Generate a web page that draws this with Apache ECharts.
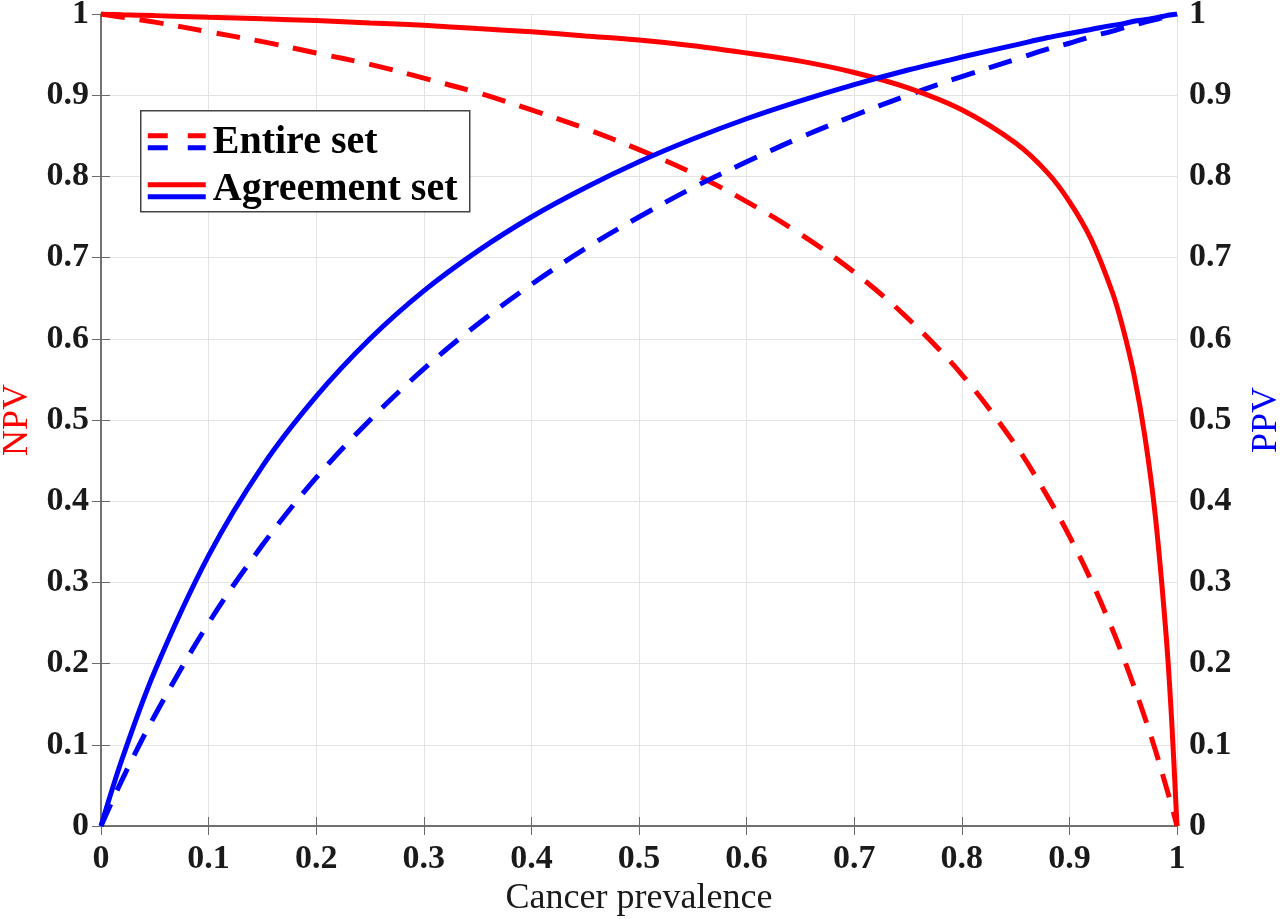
<!DOCTYPE html>
<html>
<head>
<meta charset="utf-8">
<script src="https://cdn.jsdelivr.net/npm/echarts@6/dist/echarts.min.js"></script>
<style>
  html, body { margin: 0; padding: 0; background: #fff; }
  #chart { width: 1280px; height: 919px; }
</style>
</head>
<body>
<div id="chart"></div>
<script>
// cancer prevalence (x) and the values
const prevalence = [0, 0.02, 0.05, 0.1, 0.15, 0.2, 0.25, 0.3, 0.35, 0.4, 0.45, 0.5, 0.55, 0.6, 0.65,
  0.7, 0.75, 0.8, 0.85, 0.88, 0.9, 0.92, 0.94, 0.95, 0.96, 0.97, 0.98, 0.99, 0.995, 1]
const npvAgreement = [1, 0.999, 0.998, 0.996, 0.994, 0.992, 0.989, 0.986, 0.982, 0.978, 0.973, 0.968, 0.961, 0.952, 0.942,
  0.928, 0.909, 0.882, 0.841, 0.804, 0.769, 0.723, 0.657, 0.612, 0.556, 0.481, 0.380, 0.233, 0.131, 0]
const npvEntire = [1, 0.996, 0.990, 0.978, 0.966, 0.952, 0.938, 0.921, 0.903, 0.882, 0.859, 0.833, 0.804, 0.769, 0.729,
  0.682, 0.625, 0.556, 0.469, 0.405, 0.357, 0.303, 0.242, 0.208, 0.172, 0.134, 0.093, 0.048, 0.025, 0]
const ppvAgreement = [0, 0.084, 0.191, 0.333, 0.443, 0.529, 0.600, 0.659, 0.708, 0.750, 0.786, 0.818, 0.846, 0.871, 0.893,
  0.913, 0.931, 0.947, 0.962, 0.971, 0.976, 0.981, 0.986, 0.988, 0.991, 0.993, 0.995, 0.998, 0.999, 1]
const ppvEntire = [0, 0.058, 0.136, 0.250, 0.346, 0.429, 0.500, 0.563, 0.618, 0.667, 0.711, 0.750, 0.786, 0.818, 0.848,
  0.875, 0.900, 0.923, 0.944, 0.957, 0.964, 0.972, 0.979, 0.983, 0.986, 0.990, 0.993, 0.997, 0.998, 1]
const legendLabels = ['Entire set', 'Agreement set']

const pairs = ys => prevalence.map((x, i) => [x, ys[i]])

const serif = '"Liberation Serif", "DejaVu Serif", serif'
const axisColor = '#6a6a6a'
const tickLabel = { fontFamily: serif, fontWeight: 'bold', fontSize: 34, color: '#1a1a1a' }

function yAx(name, color, pos) {
  return {
    type: 'value', min: 0, max: 1, interval: 0.1, position: pos,
    name: name, nameLocation: 'middle', nameRotate: 90, nameGap: pos === 'left' ? 64 : 72,
    nameTextStyle: { fontFamily: serif, fontSize: 36, color: color },
    axisLine: { show: true, lineStyle: { color: axisColor, width: 1.5 } },
    axisTick: { show: true, inside: true, length: 9, lineStyle: { color: axisColor } },
    axisLabel: Object.assign({ margin: 12 }, tickLabel),
    splitLine: { show: pos === 'left', lineStyle: { color: '#e3e3e3', width: 1 } }
  }
}

function line(data, axis, color, dashed) {
  return {
    type: 'line', yAxisIndex: axis, data: pairs(data),
    smooth: 0.35, showSymbol: false,
    lineStyle: { color: color, width: 5, type: dashed ? [24, 15] : 'solid' }
  }
}

const chart = echarts.init(document.getElementById('chart'))
chart.setOption({
  animation: false,
  grid: { left: 101, right: 103, top: 14, bottom: 93, outerBoundsMode: 'none', containLabel: false },
  xAxis: [
    {
      type: 'value', min: 0, max: 1, interval: 0.1,
      name: 'Cancer prevalence', nameLocation: 'middle', nameGap: 52,
      nameTextStyle: { fontFamily: serif, fontSize: 36, color: '#1a1a1a' },
      axisLine: { lineStyle: { color: axisColor, width: 1.5 } },
      axisTick: { inside: true, length: 9, lineStyle: { color: axisColor } },
      axisLabel: Object.assign({ margin: 16 }, tickLabel),
      splitLine: { show: true, lineStyle: { color: '#e3e3e3', width: 1 } }
    },
    {
      type: 'value', min: 0, max: 1, interval: 0.1, position: 'top',
      axisLine: { show: true, lineStyle: { color: axisColor, width: 1.5 } },
      axisTick: { show: true, inside: true, length: 9, lineStyle: { color: axisColor } },
      axisLabel: { show: false },
      splitLine: { show: false }
    }
  ],
  yAxis: [yAx('NPV', '#ff0000', 'left'), yAx('PPV', '#0000ff', 'right')],
  series: [
    line(npvEntire, 0, '#ff0000', true),
    line(ppvEntire, 1, '#0000ff', true),
    line(npvAgreement, 0, '#ff0000', false),
    line(ppvAgreement, 1, '#0000ff', false)
  ],
  // legend drawn by hand: each entry shows a red and a blue sample
  graphic: [
    {
      type: 'group', left: 140, top: 110, z: 100,
      children: [
        { type: 'rect', z: 100, shape: { x: 0, y: 0, width: 329, height: 101 },
          style: { fill: '#fff', stroke: '#444', lineWidth: 1.5 } },
        { type: 'line', z: 101, shape: { x1: 7, y1: 25, x2: 65, y2: 25 },
          style: { stroke: '#ff0000', lineWidth: 5, lineDash: [20, 20] } },
        { type: 'line', z: 101, shape: { x1: 7, y1: 37, x2: 65, y2: 37 },
          style: { stroke: '#0000ff', lineWidth: 5, lineDash: [20, 20] } },
        { type: 'line', z: 101, shape: { x1: 7, y1: 74, x2: 65, y2: 74 },
          style: { stroke: '#ff0000', lineWidth: 5 } },
        { type: 'line', z: 101, shape: { x1: 7, y1: 86, x2: 65, y2: 86 },
          style: { stroke: '#0000ff', lineWidth: 5 } },
        { type: 'text', z: 101, x: 72, y: 32,
          style: { text: legendLabels[0], font: 'bold 40px ' + serif, fill: '#000', verticalAlign: 'middle' } },
        { type: 'text', z: 101, x: 72, y: 79,
          style: { text: legendLabels[1], font: 'bold 40px ' + serif, fill: '#000', verticalAlign: 'middle' } }
      ]
    }
  ]
})
</script>
</body>
</html>
